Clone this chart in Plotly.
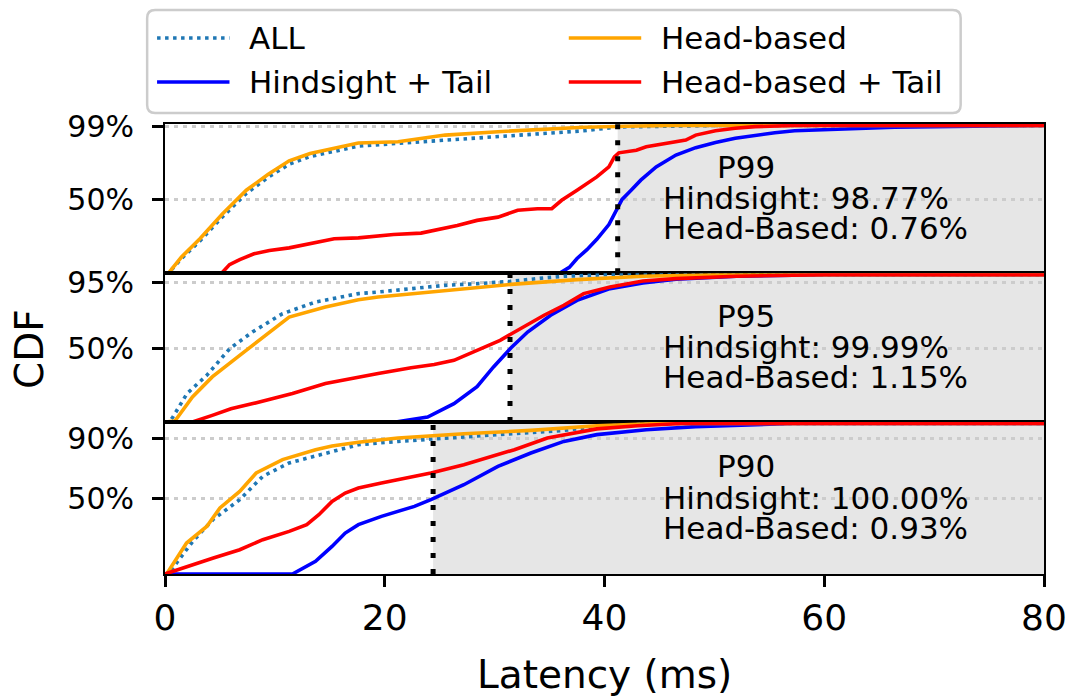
import plotly.graph_objects as go

# ---------------------------------------------------------------------------
# CDF samples (latency in ms, cumulative fraction) for each percentile panel
# ---------------------------------------------------------------------------
x_ticks = [0, 20, 40, 60, 80]
latency_range = [0, 80]

series_names = ["ALL", "Hindsight + Tail", "Head-based", "Head-based + Tail"]

# P99 panel
p99_all_x = [0, 0.3, 1.5, 3.2, 5.2, 7.4, 9.4, 11.3, 13.2, 15.2, 17.6, 21.2, 25.5, 30.3, 34.5, 38.1, 41.2, 45, 50, 80]
p99_all_y = [0, 0, 0.10, 0.22, 0.38, 0.54, 0.65, 0.738, 0.79, 0.82, 0.86, 0.879, 0.90, 0.924, 0.945, 0.964, 0.99, 0.995, 1.0, 1.0]
p99_hind_x = [0, 35.9, 36.8, 37.5, 38.4, 39.3, 40.4, 41.2, 41.6, 42.4, 43.3, 44.7, 46.5, 48.3, 50.1, 51.9, 53.7, 55.5, 57.3, 61, 66.4, 75.4, 80]
p99_hind_y = [0, 0, 0.04, 0.10, 0.16, 0.23, 0.33, 0.45, 0.50, 0.56, 0.63, 0.72, 0.80, 0.85, 0.885, 0.913, 0.935, 0.951, 0.964, 0.976, 0.988, 0.996, 1.0]
p99_head_x = [0, 0.3, 1.5, 3.2, 5.2, 7.4, 9.4, 11.3, 13.2, 15.2, 17.6, 21.2, 25.5, 30.3, 34.5, 38.1, 42, 46, 80]
p99_head_y = [0, 0, 0.11, 0.236, 0.40, 0.562, 0.67, 0.761, 0.81, 0.84, 0.881, 0.89, 0.935, 0.958, 0.975, 0.988, 0.995, 1.0, 1.0]
p99_headtail_x = [0, 5.15, 5.87, 6.8, 8.1, 9.5, 11.3, 13.1, 15.4, 17.6, 20.8, 23.3, 25.3, 26.6, 28.4, 30.3, 32.1, 33.9, 35.2,
                  36.1, 37.5, 39.3, 40.4, 40.9, 41.3, 42.9, 43.8, 45.6, 47.4, 48.3, 50.1, 51.9, 53.7, 57.3, 80]
p99_headtail_y = [0, 0, 0.059, 0.093, 0.132, 0.154, 0.172, 0.20, 0.234, 0.24, 0.263, 0.272, 0.301, 0.324, 0.358, 0.38, 0.426, 0.437, 0.437,
                  0.494, 0.562, 0.652, 0.72, 0.788, 0.815, 0.833, 0.856, 0.879, 0.901, 0.935, 0.964, 0.981, 0.992, 1.0, 1.0]

# P95 panel
p95_all_x = [0, 0.4, 0.72, 2.0, 3.8, 5.9, 7.95, 10.7, 13.7, 17.6, 19.4, 22.5, 25.4, 28.5, 31.4, 34, 36.3, 40, 80]
p95_all_y = [0, 0, 0.034, 0.193, 0.317, 0.499, 0.611, 0.736, 0.815, 0.872, 0.883, 0.905, 0.928, 0.94, 0.955, 0.975, 0.99, 1.0, 1.0]
p95_hind_x = [0, 21.0, 23.9, 26.3, 28.4, 29.9, 31.5, 33.0, 35.1, 37.5, 40.5, 43.5, 46.5, 52, 60, 80]
p95_hind_y = [0, 0, 0.034, 0.125, 0.24, 0.374, 0.504, 0.611, 0.725, 0.826, 0.906, 0.944, 0.97, 0.99, 1.0, 1.0]
p95_head_x = [0, 0.9, 2.5, 4.3, 6.8, 9.2, 11.3, 14.6, 17.6, 19.4, 25.4, 31.5, 37.5, 43.5, 50, 80]
p95_head_y = [0, 0.007, 0.17, 0.306, 0.453, 0.589, 0.713, 0.781, 0.831, 0.849, 0.894, 0.935, 0.967, 0.99, 1.0, 1.0]
p95_headtail_x = [0, 2.5, 4.3, 6.0, 8.0, 10, 11.6, 14.6, 17.6, 19.4, 22.4, 24.5, 26.3, 28.4, 30.5, 32.1, 34.5, 36.3, 38.1, 40.5, 43.5, 46.5, 52, 60, 80]
p95_headtail_y = [0, 0, 0.045, 0.09, 0.125, 0.16, 0.193, 0.261, 0.306, 0.329, 0.369, 0.39, 0.419, 0.487, 0.555, 0.623, 0.725, 0.793, 0.872, 0.917, 0.958, 0.974, 0.99, 1.0, 1.0]

# P90 panel
p90_all_x = [0, 0.3, 2.56, 4.36, 6.8, 8.9, 11.3, 15.2, 17.6, 21.2, 24.2, 30.3, 36.3, 39.3, 45, 80]
p90_all_y = [0, 0, 0.22, 0.361, 0.494, 0.649, 0.738, 0.815, 0.859, 0.881, 0.897, 0.926, 0.954, 0.981, 1.0, 1.0]
p90_hind_x = [0, 11.6, 13.7, 15.2, 16.4, 17.6, 19.7, 22.7, 24.2, 27.2, 30.3, 33.3, 36.3, 39.3, 43.8, 48.3, 57, 80]
p90_hind_y = [0, 0, 0.084, 0.183, 0.272, 0.328, 0.383, 0.449, 0.494, 0.593, 0.715, 0.804, 0.881, 0.926, 0.959, 0.979, 1.0, 1.0]
p90_head_x = [0, 0.15, 1.96, 3.8, 5.0, 6.8, 8.3, 10.7, 13.7, 15.2, 17.6, 21.2, 27.2, 33.3, 39.3, 45, 80]
p90_head_y = [0, 0, 0.206, 0.316, 0.439, 0.549, 0.671, 0.76, 0.826, 0.85, 0.875, 0.904, 0.932, 0.954, 0.985, 1.0, 1.0]
p90_headtail_x = [0, 1.96, 4.4, 6.8, 8.9, 11.3, 12.9, 14.0, 15.2, 16.4, 17.6, 19.7, 22.1, 24.2, 27.2, 30.3, 31.8, 34.8, 37.8, 39.3, 43, 47, 80]
p90_headtail_y = [0, 0.05, 0.106, 0.161, 0.228, 0.283, 0.328, 0.394, 0.482, 0.538, 0.571, 0.605, 0.638, 0.671, 0.726, 0.793, 0.826, 0.904, 0.948, 0.964, 0.985, 1.0, 1.0]

# Per-panel percentile threshold of ALL and coverage figures
panel_labels = ["P99", "P95", "P90"]
thresholds = [41.2, 31.4, 24.4]
hindsight_pct = ["98.77%", "99.99%", "100.00%"]
head_based_pct = ["0.76%", "1.15%", "0.93%"]
y_tick_vals = [[0.5, 0.99], [0.5, 0.95], [0.5, 0.90]]
y_tick_text = [["50%", "99%"], ["50%", "95%"], ["50%", "90%"]]

panels = [
    [(p99_all_x, p99_all_y), (p99_hind_x, p99_hind_y), (p99_head_x, p99_head_y), (p99_headtail_x, p99_headtail_y)],
    [(p95_all_x, p95_all_y), (p95_hind_x, p95_hind_y), (p95_head_x, p95_head_y), (p95_headtail_x, p95_headtail_y)],
    [(p90_all_x, p90_all_y), (p90_hind_x, p90_hind_y), (p90_head_x, p90_head_y), (p90_headtail_x, p90_headtail_y)],
]

# ---------------------------------------------------------------------------
# Styling
# ---------------------------------------------------------------------------
FONT = "DejaVu Sans"
W, H = 1079, 696
M_L, M_R, M_T, M_B = 165, 28, 124, 122
PLOT_W = W - M_L - M_R
PLOT_H = H - M_T - M_B

line_styles = [
    dict(color="#1f77b4", width=3.6, dash="3.5px,4.5px"),
    dict(color="#0000ff", width=3.6),
    dict(color="#ffa500", width=3.6),
    dict(color="#ff0000", width=3.6),
]

# Panel domains, top to bottom (bottom panel slightly taller)
domains = [[0.6682, 1.0], [0.3378, 0.6682], [0.0, 0.3378]]
y_range = [0, 1.01]


def px_x(px):
    return (px - M_L) / PLOT_W


def px_y(py):
    return (H - M_B - py) / PLOT_H


fig = go.Figure()
layout = {}
shapes = []
annotations = []

for i, series in enumerate(panels):
    n = i + 1
    xa = "x" if n == 1 else f"x{n}"
    ya = "y" if n == 1 else f"y{n}"
    for (xs, ys), name, style in zip(series, series_names, line_styles):
        fig.add_trace(go.Scatter(x=xs, y=ys, mode="lines", name=name, line=style,
                                 xaxis=xa, yaxis=ya, showlegend=False,
                                 hoverinfo="skip"))

    bottom = n == 3
    layout[f"xaxis{'' if n == 1 else n}"] = dict(
        domain=[0, 1], range=latency_range, anchor=ya,
        showline=True, mirror=True, linecolor="black", linewidth=2,
        showgrid=False, zeroline=False,
        tickvals=x_ticks if bottom else [],
        ticks="outside" if bottom else "", ticklen=11, tickwidth=2.5, tickcolor="black",
        showticklabels=bottom, ticklabeloverflow="allow",
        tickfont=dict(family=FONT, size=36, color="black"),
        matches=None if bottom else "x3",
    )
    layout[f"yaxis{'' if n == 1 else n}"] = dict(
        domain=domains[i], range=y_range, anchor=xa,
        tickvals=y_tick_vals[i], ticktext=y_tick_text[i],
        ticks="outside", ticklen=11, tickwidth=2.5, tickcolor="black",
        tickfont=dict(family=FONT, size=30, color="black"),
        ticklabelstandoff=12,
        showline=True, mirror=True, linecolor="black", linewidth=2,
        showgrid=True, gridcolor="#cccccc", gridwidth=2.5, griddash="4px,5px",
        zeroline=False,
    )

    # shaded region beyond the percentile threshold
    shapes.append(dict(type="rect", xref=xa, yref=f"{ya} domain",
                       x0=thresholds[i], x1=latency_range[1], y0=0, y1=1,
                       fillcolor="#e6e6e6", line=dict(width=0), layer="below"))
    # threshold marker
    shapes.append(dict(type="line", xref=xa, yref=f"{ya} domain",
                       x0=thresholds[i], x1=thresholds[i], y0=0, y1=1,
                       line=dict(color="black", width=5, dash="5px,11px"), layer="above"))

    # coverage text
    txt_font = dict(family=FONT, size=31, color="black")
    annotations.append(dict(xref=xa, yref=f"{ya} domain", x=50.1, y=0.711,
                            text=panel_labels[i], showarrow=False,
                            xanchor="left", yanchor="middle", font=txt_font))
    annotations.append(dict(xref=xa, yref=f"{ya} domain", x=45.15, y=0.503,
                            text=f"Hindsight: {hindsight_pct[i]}", showarrow=False,
                            xanchor="left", yanchor="middle", font=txt_font))
    annotations.append(dict(xref=xa, yref=f"{ya} domain", x=45.15, y=0.302,
                            text=f"Head-Based: {head_based_pct[i]}", showarrow=False,
                            xanchor="left", yanchor="middle", font=txt_font))

# axis titles
title_font = dict(family=FONT, size=39, color="black")
annotations.append(dict(xref="paper", yref="paper", x=0.5, y=px_y(674),
                        text="Latency (ms)", showarrow=False,
                        xanchor="center", yanchor="middle", font=title_font))
annotations.append(dict(xref="paper", yref="paper", x=px_x(28), y=0.5,
                        text="CDF", showarrow=False, textangle=-90,
                        xanchor="center", yanchor="middle", font=title_font))

# legend box (two columns, rounded frame)
bx0, bx1, by0, by1, rad = 147, 967, 10, 113, 8
path = (f"M {px_x(bx0 + rad)},{px_y(by0)} L {px_x(bx1 - rad)},{px_y(by0)} "
        f"Q {px_x(bx1)},{px_y(by0)} {px_x(bx1)},{px_y(by0 + rad)} "
        f"L {px_x(bx1)},{px_y(by1 - rad)} Q {px_x(bx1)},{px_y(by1)} {px_x(bx1 - rad)},{px_y(by1)} "
        f"L {px_x(bx0 + rad)},{px_y(by1)} Q {px_x(bx0)},{px_y(by1)} {px_x(bx0)},{px_y(by1 - rad)} "
        f"L {px_x(bx0)},{px_y(by0 + rad)} Q {px_x(bx0)},{px_y(by0)} {px_x(bx0 + rad)},{px_y(by0)} Z")
shapes.append(dict(type="path", xref="paper", yref="paper", path=path,
                   fillcolor="white", line=dict(color="#cccccc", width=2.5), layer="above"))

legend_slots = [(157, 38), (157, 82), (572, 38), (572, 82)]
leg_font = dict(family=FONT, size=31, color="black")
for name, style, (lx, ly) in zip(series_names, line_styles, legend_slots):
    shapes.append(dict(type="line", xref="paper", yref="paper",
                       x0=px_x(lx), x1=px_x(lx + 73), y0=px_y(ly), y1=px_y(ly),
                       line=style, layer="above"))
    annotations.append(dict(xref="paper", yref="paper", x=px_x(lx + 91), y=px_y(ly),
                            text=name, showarrow=False, xanchor="left", yanchor="middle",
                            font=leg_font))

fig.update_layout(
    width=W, height=H,
    margin=dict(l=M_L, r=M_R, t=M_T, b=M_B),
    paper_bgcolor="white", plot_bgcolor="white",
    showlegend=False,
    shapes=shapes, annotations=annotations,
    font=dict(family=FONT, color="black"),
    **layout,
)

fig.write_html("out.html", config={"displayModeBar": False})
